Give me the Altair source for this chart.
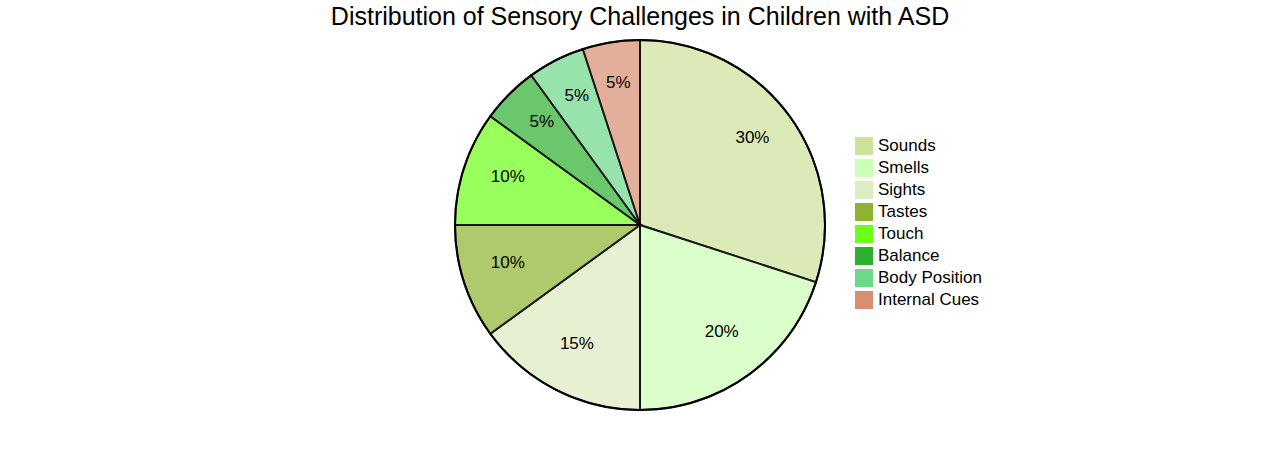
import altair as alt
import pandas as pd

categories = ["Sounds", "Smells", "Sights", "Tastes", "Touch", "Balance", "Body Position", "Internal Cues"]
values = [30, 20, 15, 10, 10, 5, 5, 5]
colors = ["#cde29a", "#ccffb6", "#deecbf", "#8eb330", "#6dff1a", "#2db02d", "#6dd78a", "#da8e70"]
title_text = "Distribution of Sensory Challenges in Children with ASD"

df = pd.DataFrame({
    "category": categories,
    "value": values,
    "order": list(range(len(categories))),
    "label": [f"{v}%" for v in values],
})

theta = alt.Theta("value:Q", stack=True)
order = alt.Order("order:Q")
color = alt.Color(
    "category:N",
    scale=alt.Scale(domain=categories, range=colors),
    legend=alt.Legend(
        title=None,
        orient="none",
        legendX=855,
        legendY=137,
        symbolType="square",
        symbolSize=324,
        symbolOpacity=1,
        symbolStrokeWidth=0,
        labelFontSize=17,
        labelFont="Liberation Sans",
        labelColor="#000000",
        rowPadding=4,
        labelOffset=5,
        labelLimit=300,
    ),
)

base = alt.Chart(df)

slices = base.mark_arc(radius=185, stroke="#000000", strokeWidth=2, opacity=0.7).encode(
    theta=theta, order=order, color=color
)

outline = base.mark_arc(radius=185, stroke="#000000", strokeWidth=2, fillOpacity=0).encode(
    theta=alt.Theta("sum(value):Q")
)

labels = base.mark_text(radius=139, dy=-5, fontSize=17, font="Liberation Sans", color="#000000").encode(
    theta=theta, order=order, text="label:N"
)

title = alt.Chart(pd.DataFrame({"t": [title_text]})).mark_text(
    fontSize=25, font="Liberation Sans", color="#000000", baseline="middle"
).encode(x=alt.value(640), y=alt.value(17), text="t:N")

chart = alt.layer(slices, outline, labels, title).properties(
    width=1280, height=450, padding=0, autosize=alt.AutoSizeParams(type="none")
).configure_view(stroke=None)

chart.save("out.html", embed_options={"renderer": "svg", "actions": False})
